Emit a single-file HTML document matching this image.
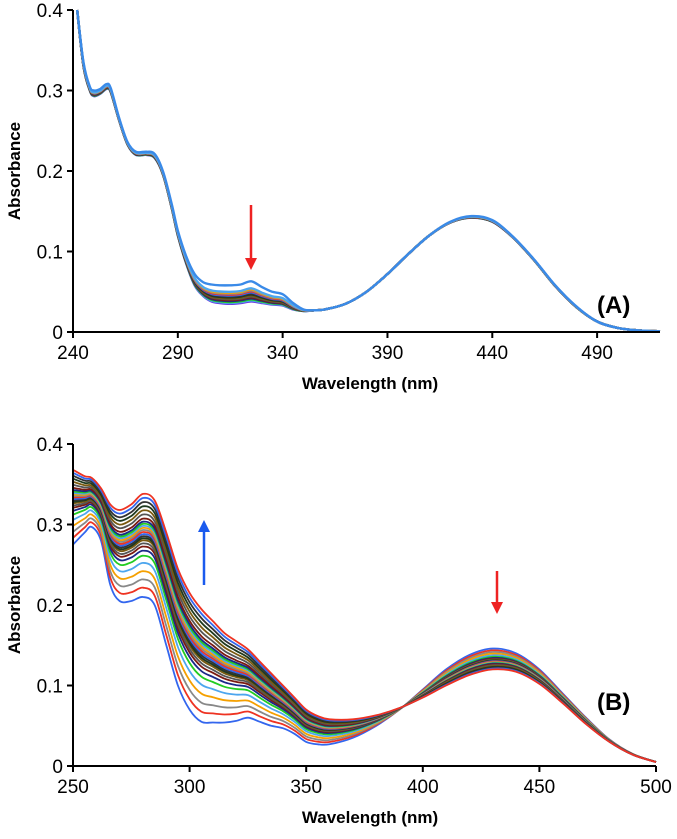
<!DOCTYPE html>
<html><head><meta charset="utf-8"><style>
body{margin:0;background:#fff;}
svg text{font-family:"Liberation Sans",Arial,sans-serif;}
</style></head><body>
<svg id="svg" width="677" height="834" xmlns="http://www.w3.org/2000/svg">
<g id="gA"></g>
<g id="gB"></g>
</svg>
<script>
// ---- Chart A data ----
const wlA = [242,245,248,250,253,256,258,262,266,270,275,279,283,287,290,294,298,302,306,310,315,320,325,330,335,340,345,350,355,360,370,380,390,400,410,420,430,440,450,460,470,480,490,500,510,520];
const absA0 = [0.40,0.33,0.30,0.293,0.296,0.302,0.298,0.263,0.233,0.220,0.220,0.216,0.195,0.155,0.120,0.085,0.058,0.045,0.038,0.036,0.035,0.036,0.038,0.036,0.034,0.033,0.028,0.026,0.027,0.028,0.035,0.050,0.072,0.097,0.120,0.136,0.142,0.137,0.117,0.089,0.057,0.031,0.013,0.005,0.002,0.001];
const absA1 = [0.40,0.335,0.305,0.30,0.302,0.308,0.303,0.266,0.236,0.224,0.224,0.221,0.199,0.160,0.126,0.094,0.072,0.062,0.059,0.058,0.058,0.059,0.063,0.056,0.050,0.047,0.036,0.028,0.027,0.028,0.035,0.050,0.072,0.097,0.120,0.137,0.144,0.139,0.118,0.090,0.058,0.032,0.013,0.005,0.002,0.001];
const fracA = [0,0.05,0.1,0.15,0.2,0.25,0.3,0.35,0.4,0.45,0.5,0.55,0.6,0.65,1];
const ticksXA = [240,290,340,390,440,490];
const ticksY = [0,0.1,0.2,0.3,0.4];
// ---- Chart B data ----
const wlB = [250,255,258,262,266,270,275,280,285,290,295,300,305,310,315,320,325,330,335,340,345,350,355,360,370,380,390,400,410,420,430,440,450,460,470,480,490,500];
const absB0 = [0.275,0.29,0.297,0.28,0.225,0.205,0.205,0.21,0.20,0.15,0.10,0.07,0.055,0.054,0.054,0.056,0.06,0.055,0.05,0.047,0.04,0.03,0.027,0.027,0.035,0.05,0.07,0.095,0.12,0.138,0.146,0.14,0.12,0.09,0.06,0.033,0.015,0.005];
const absB1 = [0.368,0.36,0.358,0.345,0.325,0.318,0.325,0.338,0.33,0.29,0.245,0.215,0.195,0.18,0.165,0.155,0.145,0.13,0.115,0.10,0.085,0.07,0.062,0.058,0.058,0.063,0.072,0.085,0.10,0.113,0.12,0.117,0.102,0.078,0.052,0.03,0.014,0.005];
const fracB = [0,0.09,0.17,0.25,0.33,0.4,0.45,0.49,0.52,0.55,0.57,0.59,0.61,0.63,0.65,0.67,0.69,0.71,0.73,0.76,0.8,0.84,0.88,0.92,0.96,1];
const ticksXB = [250,300,350,400,450,500];
const palette = ["#3366ee","#ee3322","#888888","#f5a000","#4da6ee","#22cc22","#1a2a88","#7a1a10","#555555","#7a5a10","#1f3a1f","#333333"];
const NS="http://www.w3.org/2000/svg";
function mk(parent,tag,attrs){const e=document.createElementNS(NS,tag);for(const k in attrs)e.setAttribute(k,attrs[k]);parent.appendChild(e);return e;}
function smooth(pts){
  let d="M"+pts[0][0].toFixed(1)+","+pts[0][1].toFixed(1);
  for(let i=0;i<pts.length-1;i++){
    const p0=pts[Math.max(0,i-1)],p1=pts[i],p2=pts[i+1],p3=pts[Math.min(pts.length-1,i+2)];
    const c1=[p1[0]+(p2[0]-p0[0])/6,p1[1]+(p2[1]-p0[1])/6];
    const c2=[p2[0]-(p3[0]-p1[0])/6,p2[1]-(p3[1]-p1[1])/6];
    d+="C"+c1.map(v=>v.toFixed(1))+" "+c2.map(v=>v.toFixed(1))+" "+p2.map(v=>v.toFixed(1));
  }
  return d;
}
function drawChart(g,opt){
  const X=v=>opt.x0+(v-opt.xmin)*(opt.x1-opt.x0)/(opt.xmax-opt.xmin);
  const Y=v=>opt.y0-(v)*(opt.y0-opt.yTop)/0.4;
  opt.frac.forEach((f,i)=>{
    const pts=opt.wl.map((w,j)=>[X(w),Y(opt.a0[j]*(1-f)+opt.a1[j]*f)]);
    const p=mk(g,"path",{d:smooth(pts),fill:"none",stroke:opt.colors(i),"stroke-width":opt.sw});
    
    
  });
  const ax=mk(g,"path",{d:`M${opt.x0},${opt.yTop}V${opt.y0}H${opt.x1}`,fill:"none",stroke:"#000","stroke-width":2});
  
  
  opt.ticksX.forEach(t=>{
    mk(g,"line",{x1:X(t),x2:X(t),y1:opt.y0,y2:opt.y0+6,stroke:"#000","stroke-width":2});
    const tx=mk(g,"text",{x:X(t),y:opt.y0+27,"font-size":19,"text-anchor":"middle"});tx.textContent=t;
    
    
  });
  ticksY.forEach(t=>{
    mk(g,"line",{x1:opt.x0-6,x2:opt.x0,y1:Y(t),y2:Y(t),stroke:"#000","stroke-width":2});
    const tx=mk(g,"text",{x:opt.x0-10,y:Y(t)+7,"font-size":19,"text-anchor":"end"});tx.textContent=t;
    
    
  });
  const xt=mk(g,"text",{x:370,y:opt.y0+57,"font-size":17,"font-weight":"bold","text-anchor":"middle"});xt.textContent="Wavelength (nm)";
  
  
  const cy=(opt.y0+opt.yTop)/2;
  const yt=mk(g,"text",{x:20,y:cy,"font-size":17,"font-weight":"bold","text-anchor":"middle",transform:`rotate(-90 20 ${cy})`});yt.textContent="Absorbance";
  
  
  const lb=mk(g,"text",{x:597,y:opt.labelY,"font-size":24,"font-weight":"bold","font-family":"Liberation Serif,serif"});lb.textContent=opt.label;
  
  
}
const colA=i=>i==fracA.length-1?"#3a8ae8":(i==0?"#6a3ae0":palette[(i+3)%palette.length]);
drawChart(document.getElementById("gA"),{x0:73,x1:660,xmin:240,xmax:520,y0:332,yTop:10,wl:wlA,a0:absA0,a1:absA1,frac:fracA,colors:colA,sw:2.4,ticksX:ticksXA,label:"(A)",labelY:313});
drawChart(document.getElementById("gB"),{x0:73,x1:656,xmin:250,xmax:500,y0:766,yTop:444,wl:wlB,a0:absB0,a1:absB1,frac:fracB,colors:i=>palette[i%palette.length],sw:1.8,ticksX:ticksXB,label:"(B)",labelY:710});
function arrow(x,y1,y2,c,name){
  const g=document.getElementById("svg");
  const dir=y2>y1?1:-1;
  mk(g,"line",{x1:x,x2:x,y1:y1,y2:y2-dir*10,stroke:c,"stroke-width":2.5});
  const p=mk(g,"polygon",{points:`${x-6},${y2-dir*12} ${x+6},${y2-dir*12} ${x},${y2}`,fill:c});
  
  
}
arrow(251,205,270,"#ee2222","red-arrow-a");
arrow(497,571,614,"#ee2222","red-arrow-b");
arrow(204,585,520,"#1a5aee","blue-arrow-b");
</script>
</body></html>
